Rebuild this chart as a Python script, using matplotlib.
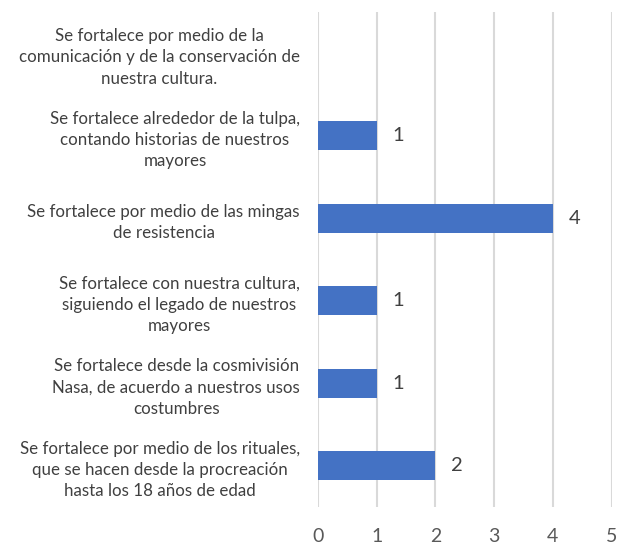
import matplotlib
matplotlib.use("Agg")
import matplotlib.pyplot as plt

plt.rcParams['font.family'] = ['Lato', 'DejaVu Sans']

categorias = [
    "Se fortalece por medio de la\ncomunicación y de la conservación de\nnuestra cultura.",
    "Se fortalece alrededor de la tulpa,\ncontando historias de nuestros\nmayores",
    "Se fortalece por medio de las mingas\nde resistencia",
    "Se fortalece con nuestra cultura,\nsiguiendo el legado de nuestros\nmayores",
    "Se fortalece desde la cosmivisión\nNasa, de acuerdo a nuestros usos\ncostumbres",
    "Se fortalece por medio de los rituales,\nque se hacen desde la procreación\nhasta los 18 años de edad",
]
valores = [0, 1, 4, 1, 1, 2]
ticks_x = [0, 1, 2, 3, 4, 5]

fig = plt.figure(figsize=(6.19, 5.46), dpi=100)
ax = fig.add_axes([318 / 619, 1 - 507 / 546, (611.5 - 318) / 619, 495 / 546])

pos = list(range(len(categorias)))
ax.barh(pos, valores, height=0.35, color='#4472c4', zorder=3)
ax.set_ylim(len(categorias) - 0.5, -0.5)
ax.set_xlim(0, 5)

ax.set_xticks(ticks_x)
ax.set_xticklabels([str(t) for t in ticks_x], fontsize=14, color='#595959')
ax.tick_params(axis='x', length=0, pad=15)
ax.set_yticks(pos)
ax.set_yticklabels(categorias, fontsize=12.2, color='#404040',
                   multialignment='center', linespacing=1.4)
ax.tick_params(axis='y', length=0, pad=13)

ax.grid(axis='x', color='#d9d9d9', linewidth=1.5, zorder=0)
for s in ax.spines.values():
    s.set_visible(False)

for p, v in zip(pos, valores):
    if v > 0:
        ax.annotate(str(v), (v, p), xytext=(11.5, 0), textcoords='offset points',
                    ha='left', va='center', fontsize=14.5, color='#404040')

fig.savefig("out.png", dpi=100)
